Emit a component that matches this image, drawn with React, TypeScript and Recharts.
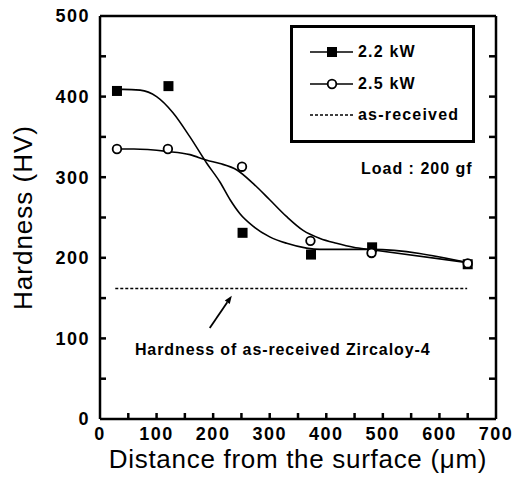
import {
  ComposedChart, Line, Scatter, XAxis, YAxis, Legend, ReferenceDot, ReferenceLine,
} from 'recharts';

const FONT = '"Liberation Sans", Arial, Helvetica, sans-serif';

// axis ticks (every 50, labelled every 100)
const xTicks = [0, 50, 100, 150, 200, 250, 300, 350, 400, 450, 500, 550, 600, 650, 700];
const yTicks = [0, 50, 100, 150, 200, 250, 300, 350, 400, 450, 500];

// measured points
const depth22 = [30, 121, 252, 373, 481, 650];
const hv22 = [407, 413, 231, 204, 213, 192];
const depth25 = [30, 120, 251, 372, 480, 650];
const hv25 = [335, 335, 313, 221, 206, 193];

// fitted curves
const fitX22 = [30, 41, 71, 100, 129, 159, 189, 212, 230, 247, 271, 300, 330, 365, 389, 480, 650];
const fitY22 = [409, 409, 408, 400, 380, 350, 317, 294, 272, 255, 239, 226, 218, 212, 210.5, 210.5, 194];
const fitX25 = [30, 60, 118, 159, 189, 212, 242, 271, 300, 330, 359, 389, 418, 448, 480, 650];
const fitY25 = [335, 335, 332, 328, 321, 317, 309, 292, 272, 251, 234, 224, 218, 213, 210, 194];

// as-received reference level
const asRecX = [27, 649];
const asRecY = [162, 162];

const zip = (xs: number[], ys: number[]) => xs.map((x, i) => ({ x, y: ys[i] }));
const pts22 = zip(depth22, hv22);
const pts25 = zip(depth25, hv25);
const fit22 = zip(fitX22, fitY22);
const fit25 = zip(fitX25, fitY25);
const asRec = zip(asRecX, asRecY);

const TICK_LEN = 6;
const TICK_W = 2.5;
const labelFont = { fill: '#000', fontSize: 18, fontWeight: 'bold' as const, fontFamily: FONT, letterSpacing: 1.5 };

const XTick = (p: any) =>
  p.payload.value % 100 === 0 ? (
    <text x={p.x} y={p.y} dy="0.71em" textAnchor="middle" {...labelFont}>{p.payload.value}</text>
  ) : <g />;

const YTick = (p: any) =>
  p.payload.value % 100 === 0 ? (
    <text x={p.x} y={p.y} dy="0.355em" textAnchor="end" {...labelFont}>{p.payload.value}</text>
  ) : <g />;

const NoTick = () => <g />;

// inward tick marks drawn from full-height / full-width reference lines
const BottomTick = (p: any) => {
  const yb = Math.max(p.y1, p.y2);
  return <line x1={p.x1} y1={yb} x2={p.x1} y2={yb - TICK_LEN} stroke="#000" strokeWidth={TICK_W} />;
};
const SideTicks = (p: any) => {
  const xl = Math.min(p.x1, p.x2), xr = Math.max(p.x1, p.x2);
  return (
    <g>
      <line x1={xl} y1={p.y1} x2={xl + TICK_LEN} y2={p.y1} stroke="#000" strokeWidth={TICK_W} />
      <line x1={xr - TICK_LEN - 1} y1={p.y1} x2={xr} y2={p.y1} stroke="#000" strokeWidth={TICK_W} />
    </g>
  );
};

const Square = (p: any) => (
  <rect x={p.cx - 5} y={p.cy - 5} width={10} height={10} fill="#000" />
);
const Ring = (p: any) => (
  <circle cx={p.cx} cy={p.cy} r={4.3} fill="#fff" stroke="#000" strokeWidth={1.8} />
);

const Arrow = (p: any) => {
  const { x1, y1, x2, y2 } = p;
  const a = Math.atan2(y2 - y1, x2 - x1);
  const bx = x2 - 8 * Math.cos(a), by = y2 - 8 * Math.sin(a);
  const w = 3;
  const pts = `${x2},${y2} ${bx - w * Math.sin(a)},${by + w * Math.cos(a)} ${bx + w * Math.sin(a)},${by - w * Math.cos(a)}`;
  return (
    <g>
      <line x1={x1} y1={y1} x2={bx} y2={by} stroke="#000" strokeWidth={1.8} />
      <polygon points={pts} fill="#000" />
    </g>
  );
};

const legendRows = [
  { label: '2.2 kW', kind: 'square' },
  { label: '2.5 kW', kind: 'ring' },
  { label: 'as-received', kind: 'dash' },
];

function LegendBox() {
  return (
    <div style={{
      width: 185, height: 118, border: '3px solid #000', boxSizing: 'border-box',
      position: 'relative', background: '#fff', fontFamily: FONT, fontSize: 16,
      fontWeight: 'bold', letterSpacing: 1.2, color: '#000',
    }}>
      {legendRows.map((r, i) => (
        <div key={r.label} style={{
          position: 'absolute', left: 17, top: 12 + i * 31.5, height: 24,
          display: 'flex', alignItems: 'center', whiteSpace: 'nowrap',
        }}>
          <svg width={46} height={14}>
            {r.kind === 'dash' ? (
              <line x1={0} y1={7} x2={45} y2={7} stroke="#000" strokeWidth={1.5} strokeDasharray="3 2" />
            ) : (
              <line x1={0} y1={7} x2={43} y2={7} stroke="#000" strokeWidth={1.6} />
            )}
            {r.kind === 'square' && <rect x={17} y={2} width={10} height={10} fill="#000" />}
            {r.kind === 'ring' && <circle cx={22} cy={7} r={4.3} fill="#fff" stroke="#000" strokeWidth={1.8} />}
          </svg>
          <span style={{ marginLeft: 2 }}>{r.label}</span>
        </div>
      ))}
    </div>
  );
}

const axisLine = { stroke: '#000', strokeWidth: 2.5 };

export default function App() {
  return (
    <div style={{ position: 'absolute', left: 0, top: 0, background: '#fff' }}>
      <ComposedChart width={524} height={486} margin={{ top: 16, right: 28, bottom: 0, left: 0 }}>
        <XAxis type="number" dataKey="x" domain={[0, 700]} ticks={xTicks} interval={0}
          allowDataOverflow height={67} tickLine={false} tickSize={0} tickMargin={8}
          axisLine={axisLine} tick={XTick}
          label={{ value: 'Distance from the surface (μm)', position: 'insideBottom', offset: 18,
            fill: '#000', fontSize: 26, letterSpacing: 0.7, fontFamily: FONT }} />
        <XAxis xAxisId="top" type="number" dataKey="x" orientation="top" mirror domain={[0, 700]}
          ticks={xTicks} interval={0} allowDataOverflow tick={NoTick} tickLine={false}
          axisLine={axisLine} />
        <YAxis type="number" domain={[0, 500]} ticks={yTicks} interval={0} allowDataOverflow
          width={100} tickLine={false} tickSize={0} tickMargin={10} axisLine={axisLine}
          tick={YTick}
          label={{ value: 'Hardness (HV)', angle: -90, position: 'insideLeft', offset: 23,
            fill: '#000', fontSize: 26, letterSpacing: 1, fontFamily: FONT,
            style: { textAnchor: 'middle' } }} />
        <YAxis yAxisId="r" type="number" orientation="right" mirror domain={[0, 500]}
          ticks={yTicks} interval={0} allowDataOverflow tick={NoTick} tickLine={false}
          axisLine={axisLine} />

        {xTicks.slice(1, -1).map((v) => (
          <ReferenceLine key={`xt${v}`} x={v} shape={BottomTick} />
        ))}
        {yTicks.slice(1, -1).map((v) => (
          <ReferenceLine key={`yt${v}`} y={v} shape={SideTicks} />
        ))}

        <Line data={asRec} dataKey="y" type="linear" stroke="#000" strokeWidth={1.5}
          strokeDasharray="3 2" dot={false} isAnimationActive={false} />
        <Line data={fit22} dataKey="y" type="monotone" stroke="#000" strokeWidth={1.6}
          dot={false} isAnimationActive={false} />
        <Line data={fit25} dataKey="y" xAxisId="top" yAxisId="r" type="monotone" stroke="#000"
          strokeWidth={1.6} dot={false} isAnimationActive={false} />
        <Scatter data={pts22} dataKey="y" shape={Square} isAnimationActive={false} />
        <Scatter data={pts25} dataKey="y" shape={Ring} isAnimationActive={false} />

        <ReferenceLine segment={[{ x: 194, y: 113 }, { x: 233, y: 153 }]} shape={Arrow} />
        <ReferenceDot x={323} y={86} r={0} fill="none" stroke="none"
          label={{ value: 'Hardness of as-received Zircaloy-4', position: 'center', fill: '#000',
            fontSize: 16, fontWeight: 'bold', letterSpacing: 0.9, fontFamily: FONT }} />
        <ReferenceDot x={560} y={311} r={0} fill="none" stroke="none"
          label={{ value: 'Load : 200 gf', position: 'center', fill: '#000',
            fontSize: 16, fontWeight: 'bold', letterSpacing: 1, fontFamily: FONT }} />

        <Legend layout="horizontal" verticalAlign="middle" align="center"
          wrapperStyle={{ left: 290, top: 25, width: 185, height: 118 }}
          content={() => <LegendBox />} />
      </ComposedChart>
    </div>
  );
}
